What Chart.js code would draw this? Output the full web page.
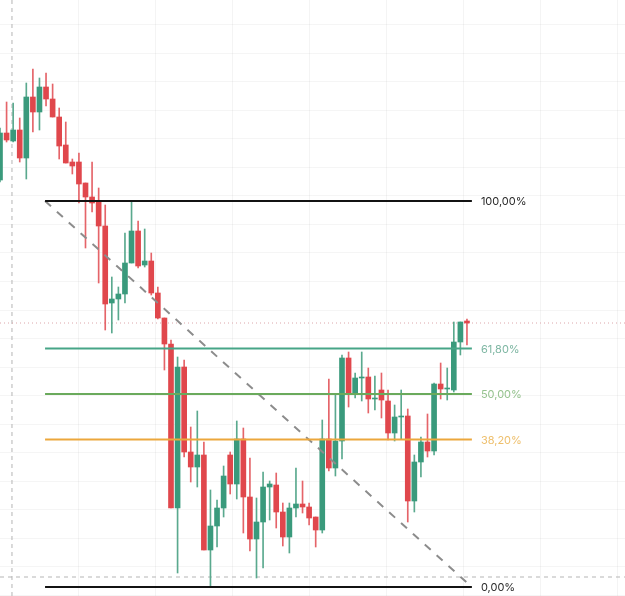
<!DOCTYPE html>
<html>
<head>
<meta charset="utf-8">
<script src="https://cdn.jsdelivr.net/npm/chart.js@4.4.1/dist/chart.umd.min.js"></script>
<style>
  html, body { margin: 0; padding: 0; background: #fff; }
</style>
</head>
<body>
<canvas id="fibChart" width="625" height="596"></canvas>
<script>
// OHLC (arbitrary price units), one entry per candle
const opens  = [820,867,859,870,842,903,888,913,901,883, 855,838,838,817,803,798,774,697,701,706,
                737,769,735,739,707,682,656,492,633,548, 533,545,450,474,492,545,516,561,503,461,
                478,513,515,488,463,492,496,493,483,470, 561,532,559,642,607,622,623,601,610,599,
                567,583,584,499,538,558,549,616,611,610, 658,679]
const highs  = [872,898,897,882,917,931,922,927,916,892, 878,841,847,817,838,812,795,723,713,767,
                798,779,771,747,713,682,660,643,640,573, 589,558,510,500,534,548,579,572,542,502,
                528,519,527,497,497,532,519,497,483,580, 621,606,645,648,627,648,632,624,627,610,
                595,610,591,545,563,586,617,637,632,678, 678,681]
const lows   = [818,858,858,838,821,868,870,894,883,841, 837,826,797,752,788,717,670,667,680,697,
                737,732,733,705,681,630,492,427,543,518, 513,450,413,453,483,506,501,467,449,422,
                432,480,472,454,447,483,487,475,453,467, 529,524,541,593,602,599,587,590,582,560,
                559,561,478,488,523,543,545,601,600,608, 645,655]
const closes = [867,860,870,842,903,888,913,901,883,854, 837,834,816,803,797,774,696,701,706,737,
                769,734,739,707,682,656,492,633,548,533, 545,450,474,492,524,516,561,503,461,478,
                513,516,488,463,492,496,493,482,470,561, 532,559,642,607,622,623,601,602,600,567,
                583,584,499,538,558,549,616,611,612,658, 678,677]

// Fibonacci retracement tool
const fibHigh = 799
const fibLow = 413
const fibStart = 6.85      // candle index where the tool starts
const fibEnd = 71.75       // candle index where the levels end
const diagEnd = 71.4
const fibRatios = [1, 0.618, 0.5, 0.382, 0]
const fibLabels = ['100,00%', '61,80%', '50,00%', '38,20%', '0,00%']
const fibLineColors = ['#131313', '#47a587', '#6aaa5c', '#eca73c', '#131313']
const fibTextColors = ['#2a2a2a', '#7db6a2', '#95c28e', '#eebf6c', '#2a2a2a']

// crosshair + last price
const crossX = 1.82
const crossY = 423
const lastPrice = closes[closes.length - 1]

// view window
const xMin = 0
const xMax = 95.03
const yMin = 404
const yMax = 1000
const gridXBase = 11.86
const gridXStep = 11.72
const gridYBase = 918
const gridYStep = 28.5

const green = '#3a9a7c'
const red = '#e0474c'

const bodyData = opens.map((o, i) => ({x: i, y: [o, closes[i]]}))
const wickData = highs.map((h, i) => ({x: i, y: [lows[i], h]}))
const candleColors = opens.map((o, i) => closes[i] >= o ? green : red)
const wickColors = opens.map((o, i) => closes[i] >= o ? '#5aa98e' : '#e56469')

const fibLevels = fibRatios.map(r => fibLow + r * (fibHigh - fibLow))

const lineDefaults = {type: 'line', pointRadius: 0, fill: false, tension: 0, order: 1}

const fibDatasets = fibLevels.map((lvl, i) => ({
    ...lineDefaults,
    data: [{x: fibStart, y: lvl}, {x: fibEnd, y: lvl}],
    borderColor: fibLineColors[i],
    borderWidth: 2
}))

// Labels to the right of the fib lines
const fibText = {
    id: 'fibText',
    afterDatasetsDraw(chart) {
        const {ctx, scales} = chart
        ctx.save()
        ctx.font = '11px Inter, "Noto Sans", sans-serif'
        ctx.textBaseline = 'middle'
        fibLevels.forEach((lvl, i) => {
            ctx.fillStyle = fibTextColors[i]
            ctx.fillText(fibLabels[i], scales.x.getPixelForValue(fibEnd) + 9, scales.y.getPixelForValue(lvl) + 1)
        })
        ctx.restore()
    }
}

const config = {
    type: 'bar',
    data: {
        datasets: [
            {
                data: wickData,
                backgroundColor: wickColors,
                barThickness: 1,
                grouped: false,
                order: 3
            },
            {
                data: bodyData,
                backgroundColor: candleColors,
                barThickness: 5,
                grouped: false,
                order: 2
            },
            ...fibDatasets,
            {
                ...lineDefaults,
                data: [{x: fibStart, y: fibHigh}, {x: diagEnd, y: fibLow + 2}],
                borderColor: '#8c8c8c',
                borderWidth: 2,
                borderDash: [8, 8]
            },
            {
                ...lineDefaults,
                data: [{x: xMin, y: lastPrice}, {x: xMax, y: lastPrice}],
                borderColor: '#dca6aa',
                borderWidth: 1,
                borderDash: [1, 3],
                order: 4
            },
            {
                ...lineDefaults,
                data: [{x: xMin, y: crossY}, {x: xMax, y: crossY}],
                borderColor: '#b5b5b5',
                borderWidth: 1,
                borderDash: [4, 4],
                order: 4
            },
            {
                ...lineDefaults,
                data: [{x: crossX, y: yMin}, {x: crossX, y: yMax}],
                borderColor: '#b5b5b5',
                borderWidth: 1,
                borderDash: [4, 4],
                order: 4
            }
        ]
    },
    options: {
        responsive: false,
        animation: false,
        layout: {padding: 0},
        plugins: {
            legend: {display: false},
            tooltip: {enabled: false}
        },
        scales: {
            x: {
                type: 'linear',
                min: xMin,
                max: xMax,
                offset: false,
                ticks: {display: false},
                border: {display: false},
                grid: {color: 'rgba(0,0,0,0.045)', drawTicks: false, offset: false},
                afterBuildTicks: axis => {
                    const t = []
                    for (let v = gridXBase; v < xMax; v += gridXStep) t.push({value: v})
                    axis.ticks = t
                }
            },
            y: {
                min: yMin,
                max: yMax,
                ticks: {display: false},
                border: {display: false},
                grid: {color: 'rgba(0,0,0,0.04)', drawTicks: false},
                afterBuildTicks: axis => {
                    const t = []
                    for (let v = gridYBase + gridYStep * 3; v > yMin; v -= gridYStep) t.push({value: v})
                    axis.ticks = t
                }
            }
        }
    },
    plugins: [fibText]
}

const fibChart = new Chart(document.getElementById('fibChart'), config)
</script>
</body>
</html>
